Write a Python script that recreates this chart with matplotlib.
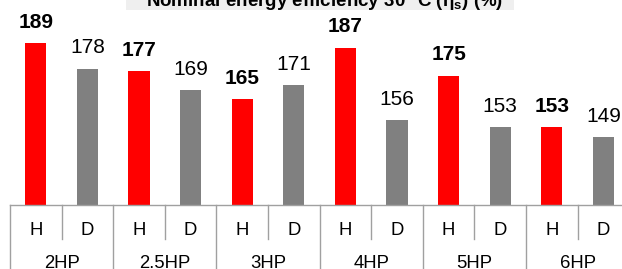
import matplotlib.pyplot as plt
import matplotlib.patches as patches
import matplotlib.transforms as mtransforms

plt.rcParams["font.family"] = ["Liberation Sans", "DejaVu Sans"]
plt.rcParams["mathtext.fontset"] = "custom"
plt.rcParams["mathtext.rm"] = "Liberation Sans"
plt.rcParams["mathtext.it"] = "Liberation Sans:italic"
plt.rcParams["mathtext.bf"] = "Liberation Sans:bold"

# Data
groups = ["2HP", "2.5HP", "3HP", "4HP", "5HP", "6HP"]
sub_labels = ["H", "D"]
h_values = [189, 177, 165, 187, 175, 153]
d_values = [178, 169, 171, 156, 153, 149]

RED = "#FF0000"
GREY = "#808080"
LINE = "#A0A0A0"

W, H = 622, 269
fig = plt.figure(figsize=(W / 100, H / 100), dpi=100)

# axes: left at x=10px, baseline at y=205px, slot width 51.6px (runs past the right edge)
slot = 51.6
n_slots = 2 * len(groups)
ax = fig.add_axes([10 / W, (H - 205) / H, n_slots * slot / W, 205 / H])
ax.set_xlim(-0.5, n_slots - 0.5)
ax.set_ylim(120, 120 + 205 / 2.35)
for s in ax.spines.values():
    s.set_visible(False)
ax.set_xticks([])
ax.set_yticks([])

bar_w = 0.41
for g, (hv, dv) in enumerate(zip(h_values, d_values)):
    xh, xd = 2 * g, 2 * g + 1
    ax.bar(xh, hv, width=bar_w, bottom=0, color=RED)
    ax.bar(xd, dv, width=bar_w, bottom=0, color=GREY)
    ax.annotate(str(hv), (xh, hv), xytext=(0, 11), textcoords="offset points",
                ha="center", va="baseline", fontsize=15, fontweight="bold")
    ax.annotate(str(dv), (xd, dv), xytext=(0, 11), textcoords="offset points",
                ha="center", va="baseline", fontsize=15)

# category axis drawn below the baseline (pixel offsets in y)
px = 1 / 205  # one pixel in axes-fraction units
trans = mtransforms.blended_transform_factory(ax.transData, ax.transAxes)
ax.plot([-0.5, n_slots - 0.5], [0, 0], color=LINE, lw=1, transform=trans, clip_on=False)
for g in range(len(groups) + 1):
    ax.plot([2 * g - 0.5] * 2, [0, -70 * px], color=LINE, lw=1, transform=trans, clip_on=False)
for g in range(len(groups)):
    ax.plot([2 * g + 0.5] * 2, [0, -34 * px], color=LINE, lw=1, transform=trans, clip_on=False)
    for k, lab in enumerate(sub_labels):
        ax.text(2 * g + k, -30 * px, lab, transform=trans, ha="center", va="baseline",
                fontsize=13.3)
    ax.text(2 * g + 0.5, -63.5 * px, groups[g], transform=trans, ha="center", va="baseline",
            fontsize=13.3)

# title box, mostly cut off at the top
fig.patches.append(patches.Rectangle((126 / W, 1 - 10 / H), (514 - 126) / W, 12 / H,
                                     transform=fig.transFigure, facecolor="#EFEFEF",
                                     edgecolor="none", zorder=0))
fig.text(325 / W, 1 - 5.5 / H, r"Nominal energy efficiency 30 °C ($\mathbf{\eta_s}$) (%)",
         ha="center", va="baseline", fontsize=13.5, fontweight="bold")

fig.savefig("out.png", dpi=100)
